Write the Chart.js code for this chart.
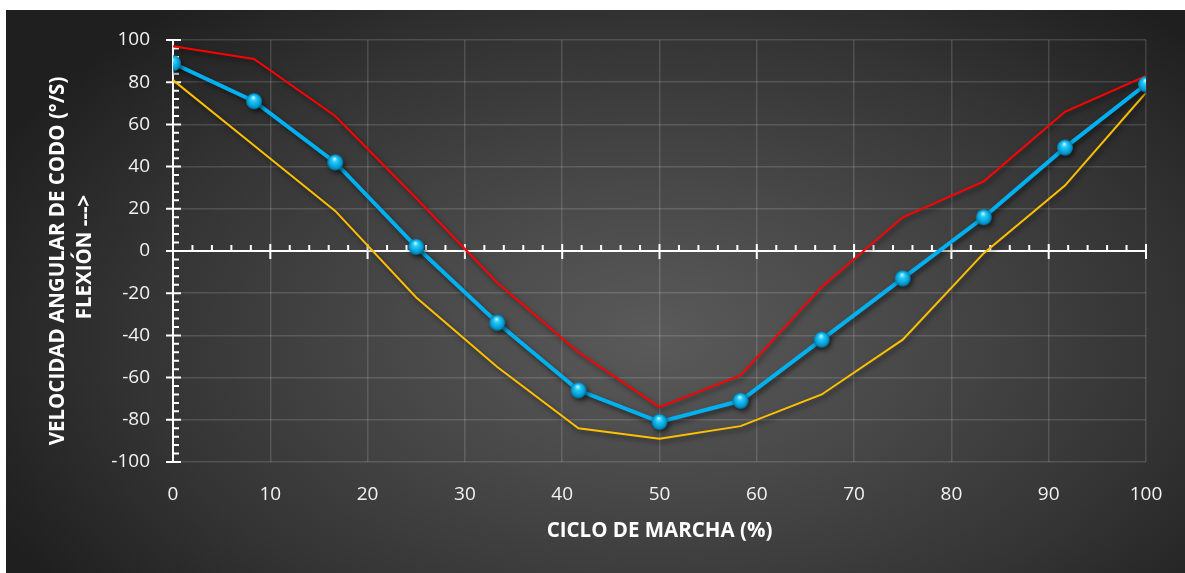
<!DOCTYPE html>
<html>
<head>
<meta charset="utf-8">
<script src="https://cdn.jsdelivr.net/npm/chart.js@4.4.1/dist/chart.umd.min.js"></script>
<style>
  html, body { margin: 0; padding: 0; background: #ffffff; overflow: hidden; }
  #panel {
    position: absolute; left: 6px; top: 10px; width: 1179px; height: 563px;
    background: radial-gradient(ellipse 62% 78% at 55% 58%, #5a5a5a 0%, #484848 35%, #343434 70%, #1f1f1f 100%);
  }
  #wrap { position: absolute; left: 0; top: 0; width: 1185px; height: 573px; }
</style>
</head>
<body>
<div id="panel"></div>
<div id="wrap"><canvas id="c" width="1185" height="573"></canvas></div>
<script>
// Gait cycle positions (%)
const cycle = [0, 8.33, 16.67, 25, 33.33, 41.67, 50, 58.33, 66.67, 75, 83.33, 91.67, 100];
// Elbow angular velocity (°/s)
const mean  = [89, 71, 42, 2, -34, -66, -81, -71, -42, -13, 16, 49, 79];
const upper = [97, 91, 64, 25, -15, -48, -74, -59, -17, 16, 33, 66, 83];
const lower = [81, 50, 19, -22, -55, -84, -89, -83, -68, -42, -1, 31, 75];
// Axis tick values
const xTicks = [0, 10, 20, 30, 40, 50, 60, 70, 80, 90, 100];
const yTicks = [-100, -80, -60, -40, -20, 0, 20, 40, 60, 80, 100];
// Axis titles
const xTitle = 'CICLO DE MARCHA (%)';
const yTitle = ['VELOCIDAD ANGULAR DE CODO (°/S)', 'FLEXIÓN --->'];

const FONT = "'Open Sans', 'Liberation Sans', sans-serif";
const toPoints = arr => arr.map((v, i) => ({ x: cycle[i], y: v }));

// Glossy sphere used as the point marker
function sphere(r) {
  const s = 2 * r + 2;
  const c = document.createElement('canvas');
  c.width = s; c.height = s;
  const g = c.getContext('2d');
  const cx = s / 2, cy = s / 2;
  const grad = g.createRadialGradient(cx - r * 0.1, cy - r * 0.5, r * 0.05, cx, cy, r);
  grad.addColorStop(0, '#c4f8ff');
  grad.addColorStop(0.3, '#25cbfa');
  grad.addColorStop(0.75, '#05a0d8');
  grad.addColorStop(1, '#02739f');
  g.fillStyle = grad;
  g.beginPath(); g.arc(cx, cy, r, 0, Math.PI * 2); g.fill();
  return c;
}

// Soft drop shadow under each series
const shadowPlugin = {
  id: 'seriesShadow',
  beforeDatasetDraw(chart) {
    const ctx = chart.ctx;
    ctx.save();
    ctx.shadowColor = 'rgba(0,0,0,0.55)';
    ctx.shadowBlur = 5;
    ctx.shadowOffsetX = 2;
    ctx.shadowOffsetY = 3;
  },
  afterDatasetDraw(chart) { chart.ctx.restore(); }
};

// White axes crossing at the origin, with major and minor tick marks
const crossAxes = {
  id: 'crossAxes',
  beforeDatasetsDraw(chart) {
    const { ctx, scales: { x, y } } = chart;
    const x0 = x.getPixelForValue(0), y0 = y.getPixelForValue(0);
    ctx.save();
    ctx.strokeStyle = '#ffffff';
    ctx.lineWidth = 2;
    ctx.lineCap = 'butt';
    ctx.beginPath();
    // vertical axis
    ctx.moveTo(x0, y.getPixelForValue(-100));
    ctx.lineTo(x0, y.getPixelForValue(100));
    for (let v = -100; v <= 100; v += 4) {
      const py = y.getPixelForValue(v);
      if (v % 20 === 0) { ctx.moveTo(x0 - 7, py); ctx.lineTo(x0 + 8, py); }
      else { ctx.moveTo(x0, py); ctx.lineTo(x0 + 6, py); }
    }
    // horizontal axis
    ctx.moveTo(x0, y0);
    ctx.lineTo(x.getPixelForValue(100), y0);
    for (let v = 0; v <= 100; v += 2) {
      const px = x.getPixelForValue(v);
      if (v % 10 === 0) { ctx.moveTo(px, y0 - 7); ctx.lineTo(px, y0 + 8); }
      else { ctx.moveTo(px, y0 - 6); ctx.lineTo(px, y0); }
    }
    ctx.stroke();
    ctx.restore();
  }
};

// Two-line rotated title beside the vertical axis
const yTitlePlugin = {
  id: 'yTitle',
  afterDraw(chart) {
    const { ctx, chartArea } = chart;
    const mid = (chartArea.top + chartArea.bottom) / 2;
    const lines = [{ text: yTitle[0], x: 58, y: mid + 10 }, { text: yTitle[1], x: 85, y: mid + 6 }];
    ctx.save();
    ctx.fillStyle = '#ffffff';
    ctx.font = "bold 20.5px " + FONT;
    ctx.textAlign = 'center';
    ctx.textBaseline = 'middle';
    lines.forEach(l => {
      ctx.save();
      ctx.translate(l.x, l.y);
      ctx.rotate(-Math.PI / 2);
      ctx.fillText(l.text, 0, 0);
      ctx.restore();
    });
    ctx.restore();
  }
};

const gridColor = 'rgba(255,255,255,0.14)';
const tickFont = { family: FONT, size: 19 };

new Chart(document.getElementById('c'), {
  type: 'line',
  data: {
    datasets: [
      {
        data: toPoints(mean), borderColor: '#00b0f0', borderWidth: 4,
        pointStyle: sphere(8), pointRadius: 8, pointHoverRadius: 8, order: 0
      },
      {
        data: toPoints(upper), borderColor: '#ff0000', borderWidth: 2,
        pointRadius: 0, order: 2
      },
      {
        data: toPoints(lower), borderColor: '#ffc000', borderWidth: 2,
        pointRadius: 0, order: 1
      }
    ]
  },
  options: {
    responsive: false,
    animation: false,
    devicePixelRatio: 1,
    layout: { padding: { left: 0, top: 40, right: 39, bottom: 0 } },
    plugins: { legend: { display: false }, tooltip: { enabled: false } },
    elements: { line: { tension: 0 } },
    scales: {
      x: {
        type: 'linear', min: 0, max: 100,
        afterBuildTicks: s => { s.ticks = xTicks.map(v => ({ value: v })); },
        afterFit: s => { s.height = 111; },
        ticks: { color: '#f2f2f2', font: tickFont, padding: 21, maxRotation: 0 },
        grid: { color: gridColor, lineWidth: 1.5, drawTicks: false },
        border: { display: false },
        title: {
          display: true, text: xTitle, color: '#ffffff',
          font: { family: FONT, size: 20.5, weight: 'bold', lineHeight: 1.2 },
          padding: { top: 0, bottom: 30 }
        }
      },
      y: {
        type: 'linear', min: -100, max: 100,
        afterBuildTicks: s => { s.ticks = yTicks.map(v => ({ value: v })); },
        afterFit: s => { s.width = 173; },
        ticks: { color: '#f2f2f2', font: tickFont, padding: 23 },
        grid: { color: gridColor, lineWidth: 1.5, drawTicks: false },
        border: { display: false },
        title: { display: false }
      }
    }
  },
  plugins: [crossAxes, shadowPlugin, yTitlePlugin]
});
</script>
</body>
</html>
